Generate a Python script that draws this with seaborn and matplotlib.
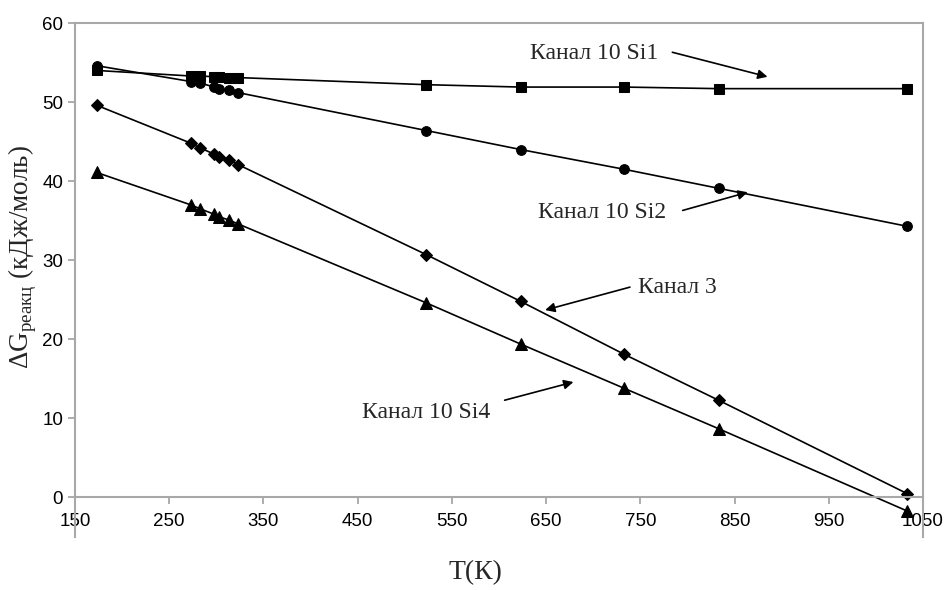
import seaborn as sns
import matplotlib.pyplot as plt
import pandas as pd

sns.set_style("white")
plt.rcParams['font.family'] = ['Liberation Sans', 'DejaVu Sans']
plt.rcParams['mathtext.fontset'] = 'custom'
plt.rcParams['mathtext.rm'] = 'Liberation Serif'

# temperatures (K)
temps = [173, 273, 283, 298, 303, 313, 323, 523, 623, 733, 833, 1033]

# dG of reaction, kJ/mol
si1 = [54.0, 53.3, 53.3, 53.2, 53.2, 53.1, 53.1, 52.2, 51.9, 51.9, 51.7, 51.7]
si2 = [54.6, 52.6, 52.4, 51.9, 51.7, 51.5, 51.2, 46.4, 44.0, 41.5, 39.1, 34.3]
ch3 = [49.6, 44.8, 44.2, 43.4, 43.1, 42.7, 42.1, 30.7, 24.8, 18.1, 12.3, 0.5]
si4 = [41.1, 37.0, 36.5, 35.8, 35.5, 35.1, 34.6, 24.6, 19.4, 13.8, 8.7, -1.7]

series_names = ["Канал 10 Si1", "Канал 10 Si2", "Канал 3", "Канал 10 Si4"]
series_values = [si1, si2, ch3, si4]
markers = ["s", "o", "D", "^"]
marker_sizes = [7.5, 7, 6, 8]

# annotation: text position and arrow (data coords)
label_pos = [(633, 56.2), (641, 36.1), (748, 26.5), (455, 10.8)]
arrow_tail = [(784, 56.3), (795, 36.3), (739, 26.6), (606, 12.3)]
arrow_tip = [(885, 53.2), (864, 38.6), (649, 23.7), (679, 14.6)]

fig = plt.figure(figsize=(9.48, 5.9), dpi=100)
ax = fig.add_axes([0.0791, 0.0898, 0.8945, 0.8712])

for name, vals, m, ms in zip(series_names, series_values, markers, marker_sizes):
    df = pd.DataFrame({"T": temps, "G": vals})
    sns.lineplot(data=df, x="T", y="G", ax=ax, color="black", linewidth=1.2,
                 marker=m, markersize=ms, markeredgecolor="black", sort=False)

for name, tp, tail, tip in zip(series_names, label_pos, arrow_tail, arrow_tip):
    ax.text(tp[0], tp[1], name, fontsize=17, family="Liberation Serif",
            va="center", ha="left")
    ax.annotate("", xy=tip, xytext=tail,
                arrowprops=dict(arrowstyle="-|>", color="black", lw=1.2,
                                mutation_scale=14, shrinkA=0, shrinkB=0))

ax.set_xlim(150, 1050)
ax.set_ylim(-5, 60)
ax.set_xticks(range(150, 1051, 100))
ax.set_yticks(range(0, 61, 10))
ax.tick_params(axis="both", labelsize=13.5, colors="#a0a0a0", labelcolor="black",
               direction="out", length=5, width=1.2, bottom=True, left=True)
ax.xaxis.set_tick_params(pad=6)

for side in ["left", "right", "top", "bottom"]:
    ax.spines[side].set_visible(True)
    ax.spines[side].set_color("#a8a8a8")
    ax.spines[side].set_linewidth(1.5)
ax.spines["bottom"].set_position(("data", 0))

ax.set_xlabel("")
ax.set_ylabel("ΔG$_{\\mathrm{реакц}}$ (кДж/моль)", fontsize=19.5,
              family="Liberation Serif")
ax.yaxis.set_label_coords(-0.043, 0.545)
fig.text(0.502, 0.03, "T(К)", fontsize=20, family="Liberation Serif",
         ha="center", va="center")

plt.savefig("out.png", dpi=100)
plt.close()
